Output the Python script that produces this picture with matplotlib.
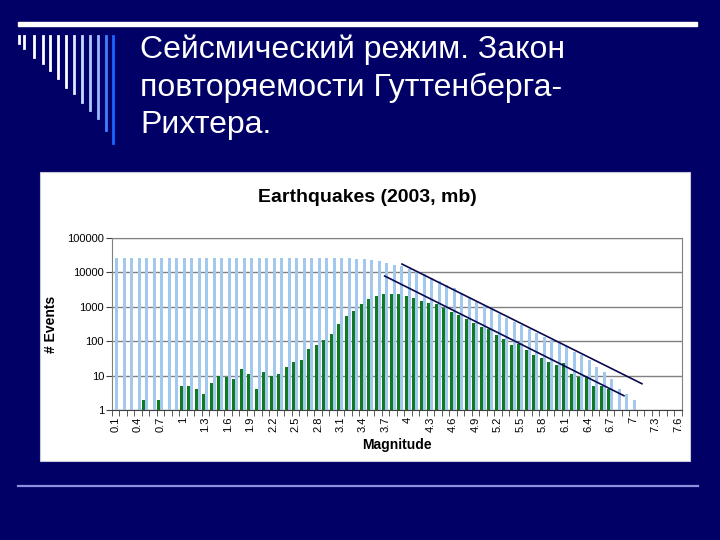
import numpy as np
import matplotlib
matplotlib.use("Agg")
import matplotlib.pyplot as plt
from matplotlib.patches import Rectangle
from matplotlib.lines import Line2D

plt.rcParams['font.family'] = ['Liberation Sans', 'DejaVu Sans']

# magnitudes 0.1 .. 7.6
magnitudes = [round(0.1 * k, 1) for k in range(1, 77)]

# cumulative number of events (light blue)
cumulative = [27000, 27000, 27000, 27000, 27000, 27000, 27000, 27000, 27000, 27000,
              27000, 27000, 27000, 27000, 27000, 27000, 27000, 27000, 27000, 27000,
              26900, 26900, 26900, 26900, 26800, 26700, 26600, 26500, 26400, 26200,
              25900, 25500, 25000, 24000, 23000, 21000, 19200, 16800, 15000, 12800,
              10500, 8700, 7000, 5600, 4300, 3450, 2600, 1900, 1400, 1100,
              850, 620, 470, 370, 290, 220, 170, 135, 108, 90,
              73, 50, 39, 28, 18, 13, 8, 4, 3, 2,
              1, 1, 1, 1, 1, 1]

# number of events in each magnitude bin (green)
per_bin = [0, 0, 0, 0, 2, 0, 2, 0, 0, 5,
           5, 4, 3, 6, 10, 9, 8, 16, 11, 4,
           13, 10, 11, 18, 25, 29, 59, 79, 110, 167,
           324, 530, 770, 1230, 1730, 2100, 2300, 2400, 2300, 2050,
           1850, 1500, 1290, 1180, 900, 707, 580, 433, 337, 265,
           221, 151, 118, 79, 85, 56, 40, 33, 25, 20,
           23, 11, 9, 9, 5, 5, 4, 0, 0, 0,
           0, 0, 0, 0, 0, 0]

tick_labels = ["0.1", "0.4", "0.7", "1", "1.3", "1.6", "1.9", "2.2", "2.5", "2.8",
               "3.1", "3.4", "3.7", "4", "4.3", "4.6", "4.9", "5.2", "5.5", "5.8",
               "6.1", "6.4", "6.7", "7", "7.3", "7.6"]

# hand-drawn Gutenberg-Richter lines (magnitude, count)
upper_line_mag = [3.92, 7.12]
upper_line_cnt = [17500, 5.8]
lower_line_mag = [3.69, 6.88]
lower_line_cnt = [7850, 2.6]

navy = "#000066"
fig = plt.figure(figsize=(7.2, 5.4), dpi=100, facecolor=navy)

W, H = 720.0, 540.0
def fx(px):
    return px / W
def fy(py):
    return 1 - py / H

# slide decoration
fig.patches.append(Rectangle((fx(18), fy(26)), fx(697) - fx(18), 4.5 / H,
                             transform=fig.transFigure, color="white", zorder=-2))
fig.lines.append(Line2D([fx(18), fx(698)], [fy(486), fy(486)], transform=fig.transFigure,
                        color="#8f8fe0", lw=1.6, zorder=-2))
deco_x = [19, 24, 34, 43, 50, 58, 66, 74, 82, 90, 98, 106, 113]
deco_bottom = [43, 48, 57, 63, 70, 78, 87, 93, 102, 110, 118, 130, 143]
deco_col = ["white", "white", "white", "white", "white", "white", "white",
            "#e0e8ff", "#c8d8ff", "#b0c8ff", "#9cb8ff", "#4080ff", "#1a66ff"]
for xx, yb, c in zip(deco_x, deco_bottom, deco_col):
    fig.lines.append(Line2D([fx(xx), fx(xx)], [fy(36), fy(yb)], transform=fig.transFigure,
                            color=c, lw=2.0, zorder=-2))

for yy, line in zip([50, 88, 125], ["Сейсмический режим. Закон",
                                    "повторяемости Гуттенберга-",
                                    "Рихтера."]):
    fig.text(fx(140), fy(yy), line, color="white", fontsize=23, va="center", ha="left")

# white chart box
fig.patches.append(Rectangle((fx(40), fy(461)), fx(690) - fx(40), fy(172) - fy(461),
                             transform=fig.transFigure, facecolor="white",
                             edgecolor="#c8c8d8", lw=0.8, zorder=-1))
fig.text(fx(367), fy(198), "Earthquakes (2003, mb)", fontsize=14, fontweight="bold",
         ha="center", va="center")

ax = fig.add_axes([fx(111.7), fy(410), fx(681.7) - fx(111.7), fy(238) - fy(410)])
ax.set_zorder(2)
ax.set_facecolor("white")

idx = np.arange(len(magnitudes))
bw = 0.39
ax.bar(idx - 0.24, per_bin, width=bw, color="#107a20", lw=0, zorder=2)
ax.bar(idx + 0.16, cumulative, width=bw, color="#a3c8ee", lw=0, zorder=2)

to_idx = lambda m: [v * 10 - 1 for v in m]
ax.plot(to_idx(upper_line_mag), upper_line_cnt, color="#0a0a50", lw=1.2, zorder=3)
ax.plot(to_idx(lower_line_mag), lower_line_cnt, color="#0a0a50", lw=1.2, zorder=3)

ax.set_yscale("log")
ax.set_ylim(1, 100000)
ax.set_xlim(-0.5, len(magnitudes) - 0.5)
ax.set_yticks([1, 10, 100, 1000, 10000, 100000])
ax.set_yticklabels(["1", "10", "100", "1000", "10000", "100000"], fontsize=8)
ax.yaxis.set_minor_locator(matplotlib.ticker.NullLocator())
ax.grid(axis="y", color="#808080", lw=1.0, zorder=1)
ax.set_axisbelow(True)

ax.set_xticks(idx[::3])
ax.set_xticklabels(tick_labels, rotation=90, fontsize=8)
ax.set_xticks(np.arange(-0.5, len(magnitudes), 1), minor=True)
ax.tick_params(axis="x", which="major", length=0, pad=5)
ax.tick_params(axis="x", which="minor", length=4, color="#404040")
ax.tick_params(axis="y", length=4, color="#404040", pad=1.5)

for s in ["top", "right", "left"]:
    ax.spines[s].set_color("#808080")
ax.spines["bottom"].set_color("#404040")

ax.set_ylabel("# Events", fontsize=10, fontweight="bold")
ax.yaxis.set_label_coords((58 - 111.7) / 570.0, 0.5)
ax.set_xlabel("Magnitude", fontsize=10, fontweight="bold", labelpad=4)

fig.savefig("out.png", dpi=100, facecolor=navy)
